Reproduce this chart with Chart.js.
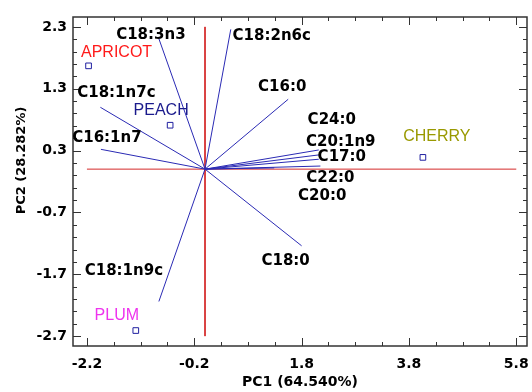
<!DOCTYPE html>
<html>
<head>
<meta charset="utf-8">
<script src="https://cdn.jsdelivr.net/npm/chart.js@4/dist/chart.umd.min.js"></script>
<style>
  body { margin: 0; background: #fff; }
</style>
</head>
<body>
<canvas id="c" width="532" height="392"></canvas>
<script>
// loadings (variables)
const vecNames = ["C18:3n3", "C18:2n6c", "C16:0", "C24:0", "C20:1n9", "C17:0", "C22:0", "C20:0", "C18:0", "C18:1n9c", "C18:1n7c", "C16:1n7"];
const vecX = [-0.86, 0.48, 1.55, 2.12, 2.12, 2.12, 2.15, 1.29, 1.80, -0.86, -1.95, -1.94];
const vecY = [2.11, 2.26, 1.13, 0.31, 0.23, 0.16, 0.05, 0.02, -1.24, -2.14, 1.00, 0.32];

// scores (samples)
const sampleNames = ["APRICOT", "PEACH", "CHERRY", "PLUM"];
const sampleX = [-2.17, -0.65, 4.06, -1.29];
const sampleY = [1.67, 0.71, 0.19, -2.61];

// tick labels
const xTicks = [-2.2, -0.2, 1.8, 3.8, 5.8];
const yTicks = [2.3, 1.3, 0.3, -0.7, -1.7, -2.7];

// label offsets from the point, px
const vecLabelOff = [[-8, -4], [41, 7], [-6, -12], [13, -30], [22, -13], [23, -2], [10, 12], [48, 28], [-16, 15], [-35, -30], [16, -14], [6, -11]];
const sampleLabelOff = [[28, -13], [-9, -15], [14, -21], [-19, -15]];
const sampleColors = ["#ff1a1a", "#1a1a8c", "#999900", "#ee33ee"];

const BLUE = "#2a2ab4";
const tickFont = { family: "DejaVu Sans", size: 14, weight: "bold" };

const datasets = [];

// samples first so they sit on top
datasets.push({
  data: sampleX.map((x, i) => ({ x, y: sampleY[i] })),
  pointStyle: "rect",
  pointRadius: 4,
  borderColor: "#2020a0",
  backgroundColor: "#fff",
  borderWidth: 1,
  showLine: false
});

vecNames.forEach((n, i) => {
  datasets.push({
    data: [{ x: 0, y: 0 }, { x: vecX[i], y: vecY[i] }],
    showLine: true,
    borderColor: BLUE,
    borderWidth: 1,
    pointRadius: 0
  });
});

// red axes through origin
datasets.push({
  data: [{ x: xTicks[0], y: 0 }, { x: xTicks[xTicks.length - 1], y: 0 }],
  showLine: true, borderColor: "#d42a2a", borderWidth: 1, pointRadius: 0
});
datasets.push({
  data: [{ x: 0, y: yTicks[0] }, { x: 0, y: yTicks[yTicks.length - 1] }],
  showLine: true, borderColor: "#d42a2a", borderWidth: 1, pointRadius: 0
});

const frameTicks = {
  id: "frameTicks",
  afterDraw(chart) {
    const { ctx, chartArea: a, scales: { x, y } } = chart;
    ctx.save();
    ctx.strokeStyle = "#333";
    ctx.lineWidth = 1;
    ctx.beginPath();
    // x ticks, major every 2, minor every 0.5
    for (let v = xTicks[0]; v <= xTicks[xTicks.length - 1] + 1e-6; v += 0.5) {
      const major = xTicks.some(t => Math.abs(t - v) < 1e-6);
      const len = major ? 8 : 4;
      const px = Math.round(x.getPixelForValue(v)) + 0.5;
      ctx.moveTo(px, a.bottom); ctx.lineTo(px, a.bottom - len);
      ctx.moveTo(px, a.top); ctx.lineTo(px, a.top + len);
    }
    // y ticks, major every 1, minor every 0.2
    for (let k = 0; k <= 25; k++) {
      const v = yTicks[yTicks.length - 1] + k * 0.2;
      const major = k % 5 === 0;
      const len = major ? 8 : 4;
      const py = Math.round(y.getPixelForValue(v)) + 0.5;
      ctx.moveTo(a.left, py); ctx.lineTo(a.left + len, py);
      ctx.moveTo(a.right, py); ctx.lineTo(a.right - len, py);
    }
    ctx.stroke();
    ctx.lineWidth = 1.5;
    ctx.strokeRect(a.left, a.top, a.right - a.left, a.bottom - a.top);

    // y axis title, sits a bit above the middle of the plot
    ctx.save();
    ctx.translate(22, (a.top + a.bottom) / 2 - 21);
    ctx.rotate(-Math.PI / 2);
    ctx.textAlign = "center";
    ctx.textBaseline = "middle";
    ctx.fillStyle = "#000";
    ctx.font = "bold 13px 'DejaVu Sans'";
    ctx.fillText("PC2 (28.282%)", 0, 0);
    ctx.restore();

    // labels
    ctx.textAlign = "center";
    ctx.textBaseline = "middle";
    ctx.fillStyle = "#000";
    ctx.font = "bold 15px 'DejaVu Sans'";
    vecNames.forEach((n, i) => {
      const p = chart.getDatasetMeta(i + 1).data[1];
      ctx.fillText(n, p.x + vecLabelOff[i][0], p.y + vecLabelOff[i][1]);
    });
    ctx.font = "16px 'Liberation Sans'";
    const pts = chart.getDatasetMeta(0).data;
    sampleNames.forEach((n, i) => {
      ctx.fillStyle = sampleColors[i];
      ctx.fillText(n, pts[i].x + sampleLabelOff[i][0], pts[i].y + sampleLabelOff[i][1]);
    });
    ctx.restore();
  }
};

new Chart(document.getElementById("c"), {
  type: "scatter",
  data: { datasets },
  options: {
    responsive: false,
    animation: false,
    layout: { padding: { top: 17, right: 2, left: 0, bottom: 0 } },
    plugins: { legend: { display: false }, tooltip: { enabled: false } },
    scales: {
      x: {
        type: "linear",
        min: -2.46,
        max: 6.0,
        afterBuildTicks: s => { s.ticks = xTicks.map(v => ({ value: v })); },
        afterFit: s => { s.height = 46; s.paddingLeft = 0; s.paddingRight = 0; },
        grid: { display: false, drawTicks: false },
        border: { display: false },
        ticks: { font: tickFont, color: "#000", padding: 10, maxRotation: 0, callback: v => v.toFixed(1) },
        title: { display: true, text: "PC1 (64.540%)", color: "#000", font: tickFont, padding: { top: 0, bottom: 1 } }
      },
      y: {
        type: "linear",
        min: -2.86,
        max: 2.46,
        afterBuildTicks: s => { s.ticks = yTicks.map(v => ({ value: v })); },
        afterFit: s => { s.width = 73; s.paddingTop = 0; s.paddingBottom = 0; },
        grid: { display: false, drawTicks: false },
        border: { display: false },
        ticks: { font: tickFont, color: "#000", padding: 6, callback: v => v.toFixed(1) }
      }
    }
  },
  plugins: [frameTicks]
});
</script>
</body>
</html>
